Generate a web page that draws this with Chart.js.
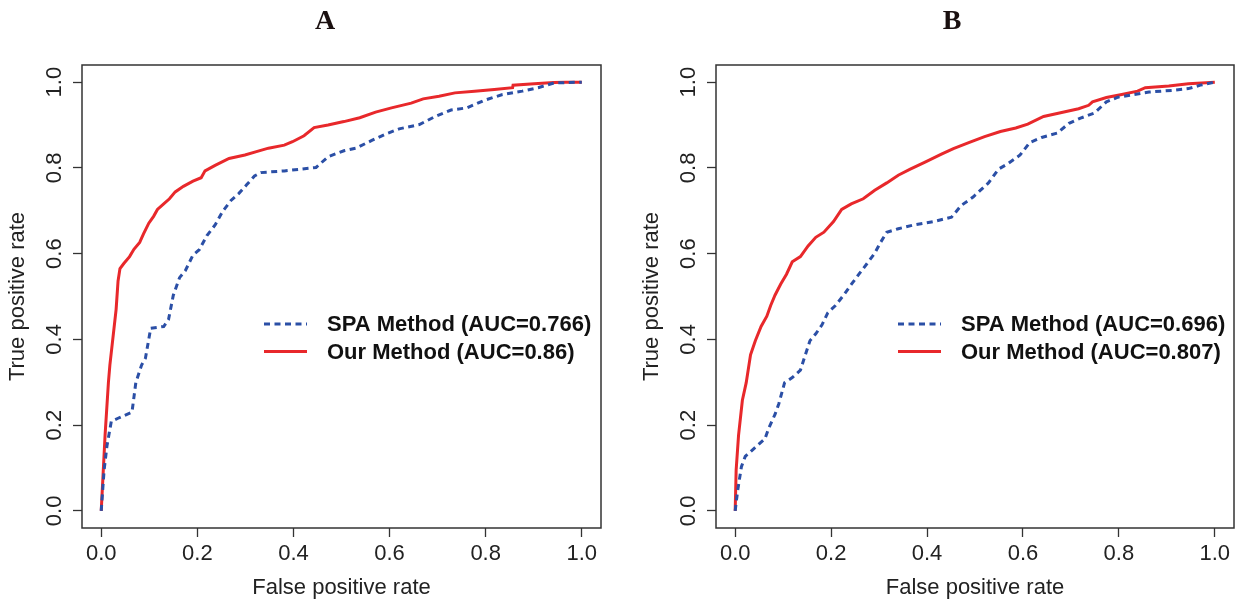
<!DOCTYPE html>
<html lang="en">
<head>
<meta charset="UTF-8">
<title>ROC curves - SPA Method vs Our Method</title>
<script src="https://cdn.jsdelivr.net/npm/chart.js"></script>
<style>
    html, body { margin: 0; padding: 0; background: #fff; overflow: hidden; }
    #wrap { position: relative; width: 1235px; height: 605px; overflow: hidden; }
    canvas { position: absolute; top: 0; }
    #chartA { left: 0; }
    #chartB { left: 634px; }
</style>
</head>
<body>
<div id="wrap">
    <canvas id="chartA" width="650" height="605"></canvas>
    <canvas id="chartB" width="636" height="605"></canvas>
</div>
<script>
// axis ticks
const tickValues = [0, 0.2, 0.4, 0.6, 0.8, 1.0];

// Panel A - SPA Method (AUC=0.766)
const fprA_spa = [0, 0.006, 0.012, 0.021, 0.035, 0.064, 0.072, 0.084, 0.092, 0.103, 0.130, 0.140, 0.150, 0.163, 0.175, 0.191, 0.204, 0.220, 0.237, 0.253, 0.270, 0.286, 0.303, 0.319, 0.332, 0.381, 0.414, 0.447, 0.472, 0.505, 0.530, 0.563, 0.592, 0.620, 0.662, 0.695, 0.728, 0.761, 0.798, 0.835, 0.876, 0.909, 0.942, 1.0];
const tprA_spa = [0, 0.095, 0.152, 0.209, 0.216, 0.230, 0.299, 0.340, 0.356, 0.426, 0.430, 0.446, 0.503, 0.544, 0.560, 0.597, 0.609, 0.642, 0.667, 0.699, 0.724, 0.740, 0.761, 0.781, 0.789, 0.793, 0.797, 0.801, 0.826, 0.840, 0.846, 0.864, 0.879, 0.891, 0.901, 0.920, 0.935, 0.940, 0.958, 0.971, 0.979, 0.987, 0.998, 1.0];

// Panel A - Our Method (AUC=0.86)
const fprA_our = [0, 0.008, 0.015, 0.018, 0.026, 0.031, 0.035, 0.039, 0.047, 0.059, 0.068, 0.080, 0.088, 0.099, 0.109, 0.117, 0.130, 0.142, 0.154, 0.171, 0.191, 0.208, 0.216, 0.237, 0.266, 0.299, 0.323, 0.348, 0.381, 0.398, 0.422, 0.443, 0.472, 0.505, 0.538, 0.571, 0.604, 0.645, 0.670, 0.703, 0.736, 0.777, 0.818, 0.856, 0.857, 0.901, 0.942, 0.967, 1.0];
const tprA_our = [0, 0.176, 0.300, 0.340, 0.420, 0.470, 0.536, 0.565, 0.577, 0.593, 0.610, 0.626, 0.646, 0.671, 0.687, 0.703, 0.716, 0.728, 0.744, 0.757, 0.769, 0.777, 0.793, 0.806, 0.822, 0.830, 0.838, 0.846, 0.853, 0.861, 0.875, 0.894, 0.900, 0.908, 0.917, 0.930, 0.940, 0.951, 0.961, 0.967, 0.975, 0.979, 0.983, 0.987, 0.993, 0.996, 0.999, 1.0, 1.0];

// Panel B - SPA Method (AUC=0.696)
const fprB_spa = [0, 0.005, 0.013, 0.021, 0.034, 0.050, 0.062, 0.070, 0.083, 0.091, 0.103, 0.119, 0.136, 0.144, 0.156, 0.168, 0.181, 0.193, 0.209, 0.226, 0.242, 0.258, 0.275, 0.291, 0.303, 0.316, 0.340, 0.373, 0.414, 0.451, 0.471, 0.496, 0.528, 0.549, 0.569, 0.594, 0.614, 0.639, 0.671, 0.696, 0.720, 0.749, 0.774, 0.798, 0.831, 0.863, 0.913, 0.945, 0.970, 1.0];
const tprB_spa = [0, 0.046, 0.103, 0.127, 0.140, 0.156, 0.168, 0.193, 0.225, 0.250, 0.299, 0.311, 0.328, 0.356, 0.397, 0.413, 0.434, 0.462, 0.479, 0.503, 0.528, 0.552, 0.577, 0.601, 0.626, 0.650, 0.658, 0.667, 0.675, 0.685, 0.712, 0.732, 0.765, 0.797, 0.810, 0.830, 0.859, 0.871, 0.881, 0.904, 0.916, 0.928, 0.954, 0.965, 0.971, 0.977, 0.981, 0.985, 0.993, 1.0];

// Panel B - Our Method (AUC=0.807)
const fprB_our = [0, 0.002, 0.007, 0.015, 0.023, 0.032, 0.042, 0.054, 0.066, 0.074, 0.083, 0.095, 0.107, 0.119, 0.136, 0.152, 0.168, 0.185, 0.205, 0.222, 0.242, 0.267, 0.291, 0.316, 0.340, 0.365, 0.397, 0.430, 0.455, 0.487, 0.520, 0.553, 0.585, 0.610, 0.643, 0.676, 0.716, 0.737, 0.745, 0.774, 0.806, 0.839, 0.855, 0.904, 0.945, 1.0];
const tprB_our = [0, 0.095, 0.176, 0.258, 0.299, 0.364, 0.397, 0.430, 0.454, 0.479, 0.503, 0.529, 0.552, 0.581, 0.593, 0.618, 0.638, 0.650, 0.675, 0.703, 0.716, 0.728, 0.748, 0.765, 0.783, 0.797, 0.814, 0.832, 0.845, 0.859, 0.873, 0.885, 0.893, 0.902, 0.920, 0.928, 0.938, 0.946, 0.954, 0.964, 0.971, 0.979, 0.987, 0.991, 0.996, 1.0];

const spaColor = '#2b4fa6';
const ourColor = '#e8282b';
const axisFont = { family: '"Liberation Sans", Arial, sans-serif', size: 22 };

function toPoints(xs, ys) {
    return xs.map((x, i) => ({ x: x, y: ys[i] }));
}

// plot frame like R's box()
const boxPlugin = {
    id: 'frameBox',
    afterDraw(chart) {
        const { ctx, chartArea } = chart;
        ctx.save();
        ctx.strokeStyle = '#333';
        ctx.lineWidth = 1.5;
        ctx.strokeRect(chartArea.left, chartArea.top, chartArea.right - chartArea.left, chartArea.bottom - chartArea.top);
        ctx.restore();
    }
};

// legend placed inside the plot, R style
const rocLegend = {
    id: 'rocLegend',
    afterDatasetsDraw(chart, args, opts) {
        const { ctx, chartArea } = chart;
        ctx.save();
        chart.data.datasets.forEach((ds, i) => {
            const y = chartArea.top + opts.top + i * opts.rowGap;
            ctx.strokeStyle = ds.borderColor;
            ctx.lineWidth = ds.borderWidth;
            ctx.setLineDash(ds.borderDash || []);
            ctx.beginPath();
            ctx.moveTo(chartArea.left + opts.lineStart, y);
            ctx.lineTo(chartArea.left + opts.lineEnd, y);
            ctx.stroke();
            ctx.setLineDash([]);
            ctx.fillStyle = '#111';
            ctx.font = 'bold 22px "Liberation Sans", Arial, sans-serif';
            ctx.textBaseline = 'middle';
            ctx.textAlign = 'left';
            ctx.fillText(ds.label, chartArea.left + opts.textStart, y + 1);
        });
        ctx.restore();
    }
};

function fixedTicks(scale) {
    scale.ticks = tickValues.map(v => ({ value: v }));
}

function makePanel(id, letter, spa, our, auc, rightGap) {
    new Chart(document.getElementById(id), {
        type: 'line',
        data: {
            datasets: [
                {
                    label: 'SPA Method (AUC=' + auc[0] + ')',
                    data: spa,
                    borderColor: spaColor,
                    borderWidth: 3,
                    borderDash: [6, 4.5],
                    pointRadius: 0,
                    tension: 0
                },
                {
                    label: 'Our Method (AUC=' + auc[1] + ')',
                    data: our,
                    borderColor: ourColor,
                    borderWidth: 3,
                    pointRadius: 0,
                    tension: 0
                }
            ]
        },
        options: {
            responsive: false,
            animation: false,
            devicePixelRatio: 1,
            layout: { padding: 0 },
            plugins: {
                legend: { display: false },
                tooltip: { enabled: false },
                title: {
                    display: true,
                    text: letter,
                    color: '#1a1010',
                    font: { family: '"Liberation Serif", "Times New Roman", serif', size: 28, weight: 'bold', lineHeight: 1.2 },
                    padding: { top: 5, bottom: 26.4 }
                },
                rocLegend: { top: 259, rowGap: 27.5, lineStart: 182, lineEnd: 225, textStart: 245 }
            },
            scales: {
                x: {
                    type: 'linear',
                    min: -0.04,
                    max: 1.04,
                    afterBuildTicks: fixedTicks,
                    afterFit(scale) { scale.height = 77; },
                    grid: { display: true, drawOnChartArea: false, drawTicks: true, tickLength: 9, tickWidth: 1.3, tickColor: '#333' },
                    border: { display: false },
                    ticks: {
                        color: '#222',
                        font: axisFont,
                        padding: 4,
                        maxRotation: 0,
                        autoSkip: false,
                        callback: v => v.toFixed(1)
                    },
                    title: {
                        display: true,
                        text: 'False positive rate',
                        color: '#222',
                        font: axisFont,
                        padding: { top: 4, bottom: 4 }
                    }
                },
                y: {
                    type: 'linear',
                    min: -0.04,
                    max: 1.04,
                    afterBuildTicks: fixedTicks,
                    afterFit(scale) { scale.width = 82; },
                    grid: { display: true, drawOnChartArea: false, drawTicks: true, tickLength: 9, tickWidth: 1.3, tickColor: '#333' },
                    border: { display: false },
                    ticks: {
                        color: '#222',
                        font: axisFont,
                        padding: 3,
                        minRotation: 90,
                        maxRotation: 90,
                        crossAlign: 'center',
                        autoSkip: false,
                        callback: v => v.toFixed(1)
                    },
                    title: {
                        display: true,
                        text: 'True positive rate',
                        color: '#222',
                        font: axisFont,
                        padding: { top: 5, bottom: 4 }
                    }
                },
                // empty right-hand margin so the panel letter centres like the original
                gap: {
                    type: 'linear',
                    position: 'right',
                    min: 0,
                    max: 1,
                    afterFit(scale) { scale.width = rightGap; },
                    grid: { display: false },
                    border: { display: false },
                    ticks: { display: false }
                }
            }
        },
        plugins: [boxPlugin, rocLegend]
    });
}

makePanel('chartA', 'A', toPoints(fprA_spa, tprA_spa), toPoints(fprA_our, tprA_our), ['0.766', '0.86'], 49);
makePanel('chartB', 'B', toPoints(fprB_spa, tprB_spa), toPoints(fprB_our, tprB_our), ['0.696', '0.807'], 36);
</script>
</body>
</html>
